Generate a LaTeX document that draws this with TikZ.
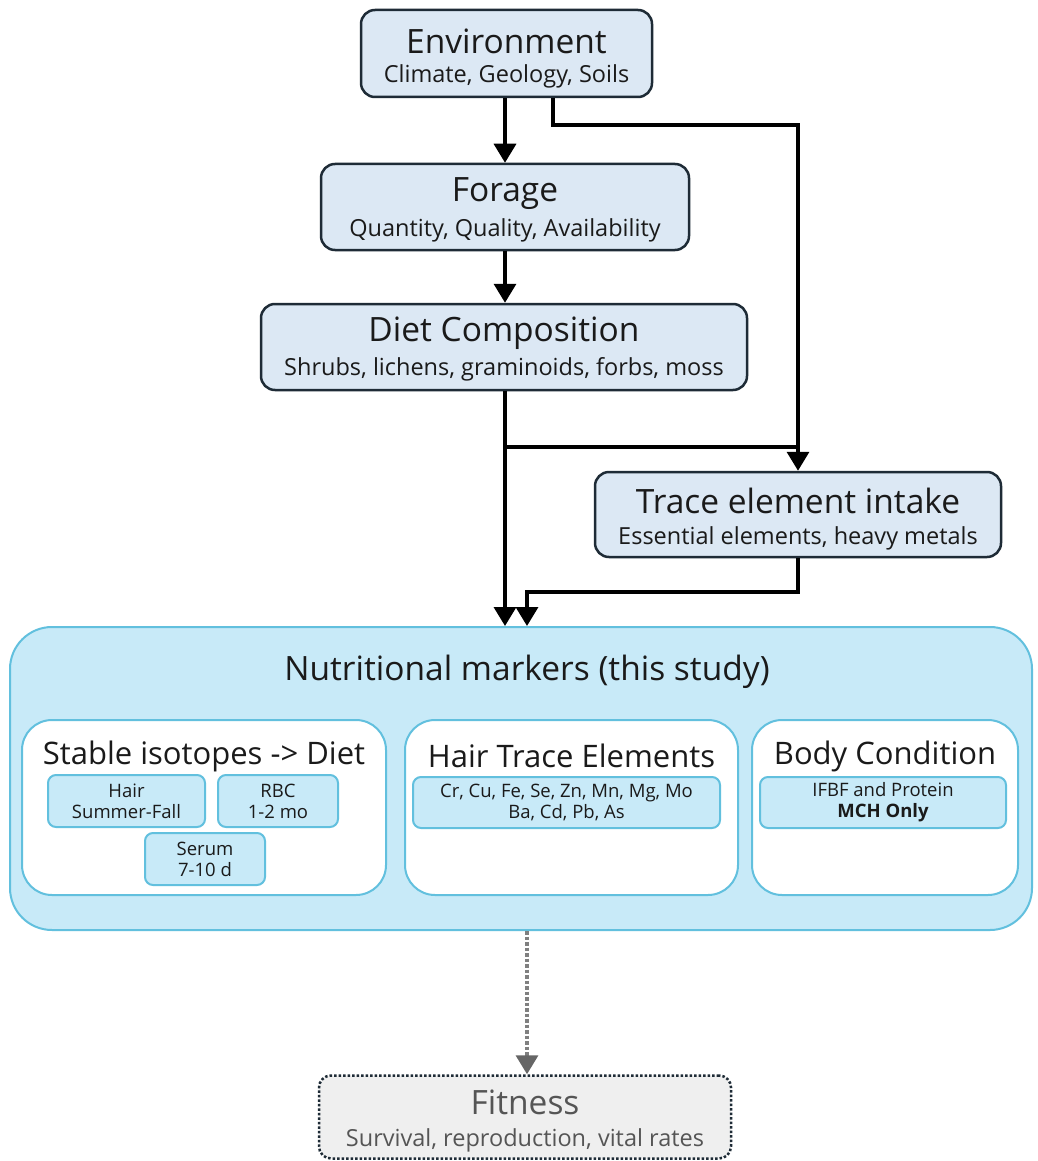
\documentclass[tikz,border=0pt]{standalone}
\usepackage{fontspec}
\setmainfont{Open Sans}
\usetikzlibrary{arrows.meta,calc}
\definecolor{boxfill}{HTML}{DCE8F4}
\definecolor{boxdraw}{HTML}{1E2B36}
\definecolor{nutfill}{HTML}{C8EAF8}
\definecolor{nutdraw}{HTML}{62C0DE}
\definecolor{fitfill}{HTML}{EFEFEF}
\definecolor{txt}{HTML}{1A1A1A}
\definecolor{graytxt}{HTML}{555555}
\begin{document}
\begin{tikzpicture}[x=1pt,y=1pt,
  mainbox/.style={draw=boxdraw,fill=boxfill,line width=2.5pt,rounded corners=14pt,align=center,inner sep=0pt,text=txt},
  nutbox/.style={draw=nutdraw,fill=nutfill,line width=2pt,rounded corners=42pt,inner sep=0pt},
  whitebox/.style={draw=nutdraw,fill=white,line width=2pt,rounded corners=30pt,inner sep=0pt},
  smallbox/.style={draw=nutdraw,fill=nutfill,line width=2pt,rounded corners=8pt,align=center,inner sep=0pt,text=txt,font=\fontsize{18.5}{21}\selectfont},
  fitbox/.style={draw=boxdraw,fill=fitfill,line width=2.5pt,dotted,rounded corners=12pt,align=center,inner sep=0pt},
  conn/.style={line width=3.5pt,draw=black},
  arr/.style={conn,-{Triangle[width=22pt,length=19pt]}},
  dotarr/.style={line width=3.5pt,draw=black!50,dotted,-{Triangle[width=22pt,length=19pt,color=black!60]}},
  ttl/.style={font=\fontsize{33.5}{38}\selectfont},
  sub/.style={font=\fontsize{23.5}{27}\selectfont},
  itl/.style={font=\fontsize{31}{35}\selectfont,text=txt}
]
\useasboundingbox (0,0) rectangle (1037,-1161);
\fill[white] (0,0) rectangle (1037,-1161);

% main boxes
\node[mainbox,minimum width=291pt,minimum height=87pt] (env) at (506.5,-53.5) {};
\node[ttl,text=txt] (envt) at (506.5,-41) {Environment};
\node[sub,text=txt] (envs) at (506.5,-76) {Climate, Geology, Soils};

\node[mainbox,minimum width=368pt,minimum height=86pt] (forage) at (505,-207) {};
\node[ttl,text=txt] (foraget) at (505,-194) {Forage};
\node[sub,text=txt] (forages) at (505,-230) {Quantity, Quality, Availability};

\node[mainbox,minimum width=486pt,minimum height=86pt] (diet) at (504,-347) {};
\node[ttl,text=txt] (dictt) at (504,-333) {Diet Composition};
\node[sub,text=txt] (diets) at (504,-369) {Shrubs, lichens, graminoids, forbs, moss};

\node[mainbox,minimum width=406pt,minimum height=85pt] (trace) at (798,-514.5) {};
\node[ttl,text=txt] (tracet) at (798,-501) {Trace element intake};
\node[sub,text=txt] (traces) at (798,-538) {Essential elements, heavy metals};

% nutritional markers
\node[nutbox,minimum width=1022pt,minimum height=303pt] (nutr) at (521,-778.5) {};
\node[ttl,text=txt] (nutrt) at (527,-672) {Nutritional markers (this study)};

\node[whitebox,minimum width=364pt,minimum height=175pt] (stable) at (204,-807.5) {};
\node[itl] (stablet) at (204,-756) {Stable isotopes -> Diet};
\node[smallbox,minimum width=157pt,minimum height=52pt] (hair) at (126.5,-801) {Hair\\Summer-Fall};
\node[smallbox,minimum width=120pt,minimum height=52pt] (rbc) at (278,-801) {RBC\\1-2 mo};
\node[smallbox,minimum width=120pt,minimum height=52pt] (serum) at (205,-859) {Serum\\7-10 d};

\node[whitebox,minimum width=333pt,minimum height=175pt] (hte) at (571.5,-807.5) {};
\node[itl] (htet) at (571.5,-756) {Hair Trace Elements};
\node[smallbox,minimum width=307pt,minimum height=51pt] (htein) at (566.5,-802.5) {Cr, Cu, Fe, Se, Zn, Mn, Mg, Mo\\Ba, Cd, Pb, As};

\node[whitebox,minimum width=266pt,minimum height=175pt] (body) at (885,-807.5) {};
\node[itl] (bodyt) at (885,-756) {Body Condition};
\node[smallbox,minimum width=246pt,minimum height=51pt] (bodyin) at (883,-802.5) {IFBF and Protein\\\textbf{MCH Only}};

% fitness
\node[fitbox,minimum width=412pt,minimum height=83pt] (fit) at (525,-1117) {};
\node[ttl,text=graytxt] (fitt) at (525,-1102) {Fitness};
\node[sub,text=graytxt] (fits) at (525,-1140) {Survival, reproduction, vital rates};

% connectors
\coordinate (e1) at (798,-125);
\coordinate (d1) at (505,-447);
\coordinate (t1) at (527,-592);
\draw[arr] (forage.north |- env.south) -- (forage.north);
\draw[arr] ([xshift=46.5pt]env.south) |- (e1) -- (trace.north);
\draw[arr] (forage.south) -- (forage.south |- diet.north);
\draw[conn] (diet.south -| d1) -- (d1) -- (d1 -| trace.north);
\draw[arr] (diet.south -| d1) -- (nutr.north -| d1);
\draw[arr] (trace.south) |- (t1) -- (t1 |- nutr.north);
\draw[dotarr] (nutr.south -| t1) -- (fit.north -| t1);
\end{tikzpicture}
\end{document}
